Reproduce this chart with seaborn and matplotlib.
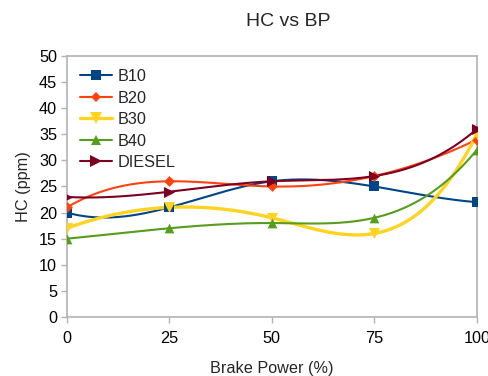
import numpy as np
import pandas as pd
import matplotlib
matplotlib.use("Agg")
import matplotlib.pyplot as plt
import seaborn as sns

x_vals = [0, 25, 50, 75, 100]
b10 = [20, 21, 26, 25, 22]
b20 = [21, 26, 25, 27, 34]
b30 = [17, 21, 19, 16, 35]
b40 = [15, 17, 18, 19, 32]
diesel = [23, 24, 26, 27, 36]
series_names = ["B10", "B20", "B30", "B40", "DIESEL"]
series_vals = [b10, b20, b30, b40, diesel]
colors = ["#004586", "#ff420e", "#ffd320", "#579d1c", "#7e0021"]
markers = ["s", "D", "v", "^", ">"]
msizes = [7, 5.5, 8, 7, 8]
lwidths = [1.5, 1.5, 2.4, 1.5, 1.5]


def smooth_curve(x, y, n=300):
    """Not-a-knot cubic spline through the data points (for drawing only)."""
    x = np.asarray(x, float); y = np.asarray(y, float)
    k = len(x); h = np.diff(x)
    A = np.zeros((k, k)); b = np.zeros(k)
    A[0, 0] = 1 / h[0]; A[0, 1] = -1 / h[0] - 1 / h[1]; A[0, 2] = 1 / h[1]
    A[-1, -3] = 1 / h[-2]; A[-1, -2] = -1 / h[-2] - 1 / h[-1]; A[-1, -1] = 1 / h[-1]
    for i in range(1, k - 1):
        A[i, i - 1] = h[i - 1]; A[i, i] = 2 * (h[i - 1] + h[i]); A[i, i + 1] = h[i]
        b[i] = 6 * ((y[i + 1] - y[i]) / h[i] - (y[i] - y[i - 1]) / h[i - 1])
    M = np.linalg.solve(A, b)
    xs = np.linspace(x[0], x[-1], n); ys = np.empty_like(xs)
    for j, xv in enumerate(xs):
        i = min(max(np.searchsorted(x, xv, side="right") - 1, 0), k - 2)
        t1 = x[i + 1] - xv; t0 = xv - x[i]
        ys[j] = (M[i] * t1 ** 3 + M[i + 1] * t0 ** 3) / (6 * h[i]) \
            + (y[i] / h[i] - M[i] * h[i] / 6) * t1 + (y[i + 1] / h[i] - M[i + 1] * h[i] / 6) * t0
    return xs, ys


sns.set_style("white")
plt.rcParams["font.family"] = ["Liberation Sans", "DejaVu Sans"]

fig = plt.figure(figsize=(4.88, 3.76), dpi=100)
ax = fig.add_axes([0.137, 0.157, 0.840, 0.694])

handles = []
for name, vals, c, m, ms, lw in zip(series_names, series_vals, colors, markers, msizes, lwidths):
    xs, ys = smooth_curve(x_vals, vals)
    sns.lineplot(x=xs, y=ys, ax=ax, color=c, linewidth=lw, zorder=2, sort=False,
                 estimator=None)
    sns.scatterplot(x=x_vals, y=vals, ax=ax, color=c, marker=m, s=ms ** 2,
                    edgecolor=c, linewidth=0, zorder=3)
    handles.append(plt.Line2D([], [], color=c, linewidth=lw, marker=m, markersize=ms,
                              markeredgewidth=0, label=name))

ax.set_xlim(0, 100)
ax.set_ylim(0, 50)
ax.set_xticks(x_vals)
ax.set_yticks(range(0, 51, 5))
for s in ax.spines.values():
    s.set_color("#b3b3b3")
    s.set_linewidth(1.2)
ax.tick_params(axis="both", direction="out", length=4, width=1, color="#b3b3b3",
               labelsize=11.7, labelcolor="#000000", left=True, bottom=True)
ax.tick_params(axis="x", pad=6)
ax.tick_params(axis="y", pad=3)
ax.set_xlabel("Brake Power (%)", fontsize=11.7, labelpad=11)
ax.set_ylabel("HC (ppm)", fontsize=11.7, labelpad=6)
fig.suptitle("HC vs BP", x=0.59, y=0.965, fontsize=14)

ax.legend(handles=handles, loc="upper left", bbox_to_anchor=(0.0, 1.0), frameon=False,
          fontsize=11.7, handlelength=2.0, labelspacing=0.4, borderaxespad=0.4,
          handletextpad=0.3)

fig.savefig("out.png", dpi=100)
